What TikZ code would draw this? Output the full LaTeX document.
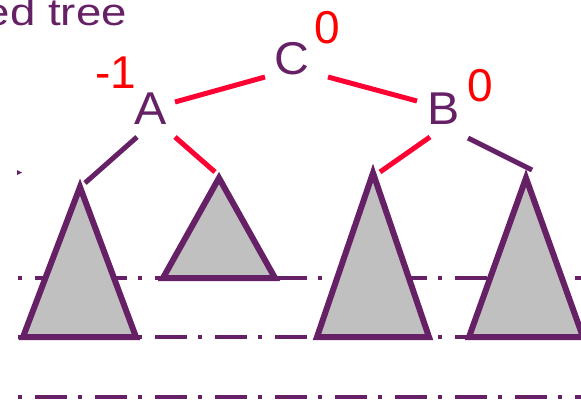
\documentclass[tikz,border=0pt]{standalone}
\usepackage{fontspec}
\setmainfont{Liberation Sans}
\usepackage{graphicx}
\usetikzlibrary{calc}
\definecolor{purp}{RGB}{102,32,102}
\definecolor{redl}{RGB}{255,0,51}
\definecolor{numred}{RGB}{255,0,0}
\definecolor{fillg}{RGB}{192,192,192}
\begin{document}
\begin{tikzpicture}[x=1pt,y=-1pt,
  letter/.style={text=purp,font=\fontsize{46}{50}\selectfont,inner sep=0pt},
  num/.style={text=numred,font=\fontsize{46}{50}\selectfont,inner sep=0pt},
  redline/.style={draw=redl,line width=5pt},
  purline/.style={draw=purp,line width=5pt},
  tri/.style={draw=purp,fill=fillg,line width=6pt,line join=miter},
  level/.style={draw=purp,line width=3.5pt,dash pattern=on 4pt off 13pt on 32pt off 11pt}]
\useasboundingbox (0,0) rectangle (581,400);
% title
\node[anchor=base east,text=purp,font=\fontsize{38}{40}\selectfont,inner sep=0pt] (title) at (127,25) {\scalebox{1.2}[1]{ed tree}};
% small marker
\fill[purp] (17,170) -- (22,172.5) -- (17,175) -- cycle;
% level lines
\coordinate (l1a) at (18,278); \coordinate (l1b) at (581,278);
\coordinate (l2a) at (18,337); \coordinate (l2b) at (581,337);
\coordinate (l3a) at (18,397); \coordinate (l3b) at (581,397);
\draw[level] (l1a) -- (l1b);
\draw[level] (l2a) -- (l2b);
\draw[level] (l3a) -- (l3b);
% subtree triangles
\coordinate (t1) at (80,187);
\coordinate (t2) at (219,178);
\coordinate (t3) at (373,173);
\coordinate (t4) at (526,178);
\draw[tri] (t1) -- (23,337) -- (136,337) -- cycle;
\draw[tri] (t2) -- (163,278) -- (275,278) -- cycle;
\draw[tri] (t3) -- (317,337) -- (429,337) -- cycle;
\draw[tri] (t4) -- (469,337) -- (583,337) -- cycle;
% tree nodes
\node[letter] (C) at (292,59) {\scalebox{1.05}[1]{C}};
\node[letter] (A) at (151,108.5) {\scalebox{1.05}[1]{A}};
\node[letter] (B) at (444,108.5) {\scalebox{1.05}[1]{B}};
\node[num] (bC) at (327.5,27.5) {0};
\node[num] (bA) at (115.5,72.5) {-1};
\node[num] (bB) at (480,85.5) {0};
% connectors
\draw[redline] ($(A)+(24,-6.5)$) -- ($(C)+(-27,18)$);
\draw[redline] ($(C)+(36,18)$) -- ($(B)+(-27,-7.5)$);
\draw[purline] ($(A)+(-14,28.5)$) -- ($(t1)+(5,-4)$);
\draw[redline] ($(A)+(24,28.5)$) -- ($(t2)+(-4,-6)$);
\draw[redline] ($(B)+(-14,28.5)$) -- ($(t3)+(7,-1)$);
\draw[purline] ($(B)+(24,29.5)$) -- ($(t4)+(6,-8)$);
\end{tikzpicture}
\end{document}
